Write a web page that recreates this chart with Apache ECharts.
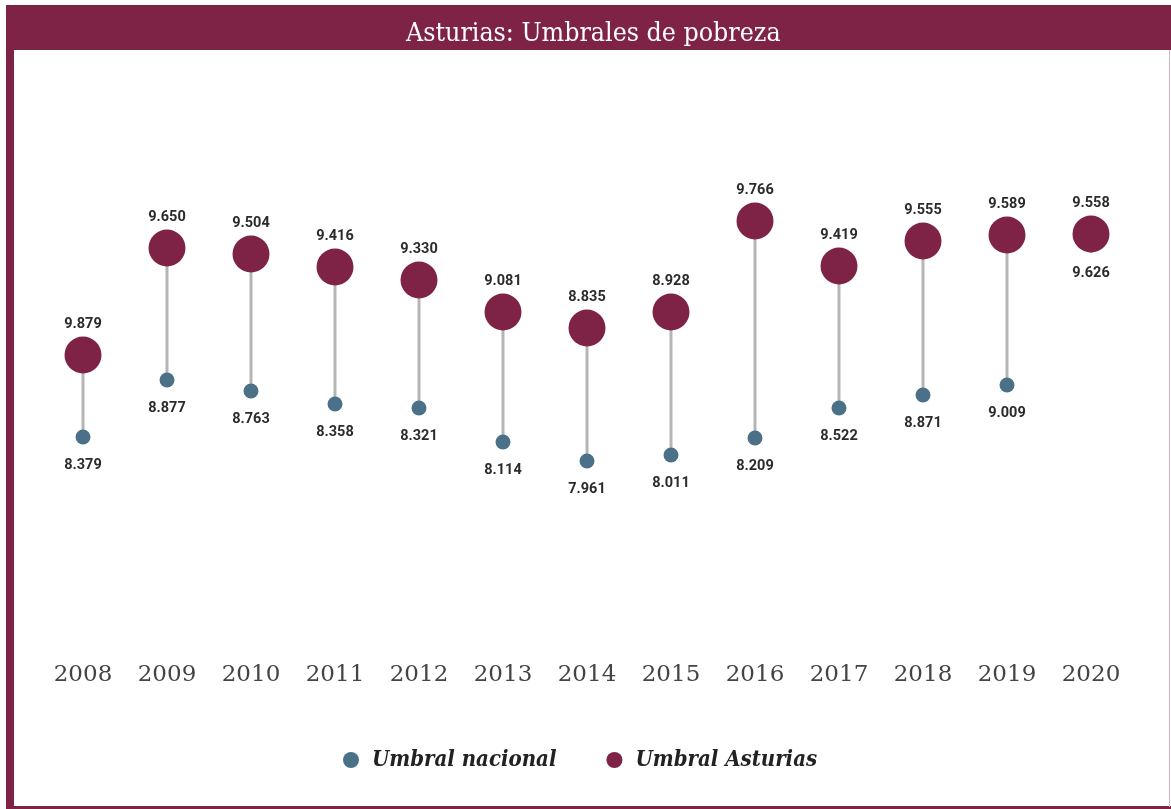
<!DOCTYPE html>
<html>
<head>
<meta charset="utf-8">
<script src="https://cdn.jsdelivr.net/npm/echarts@6/dist/echarts.min.js"></script>
<style>
  html, body { margin: 0; padding: 0; background: #ffffff; }
  #chart { width: 1171px; height: 809px; }
</style>
</head>
<body>
<div id="chart"></div>
<script>
// Categories
const years = ['2008','2009','2010','2011','2012','2013','2014','2015','2016','2017','2018','2019','2020'];

// Printed values (miles de euros)
const nacionalLabels = ['8.379','8.877','8.763','8.358','8.321','8.114','7.961','8.011','8.209','8.522','8.871','9.009','9.626'];
const asturiasLabels = ['9.879','9.650','9.504','9.416','9.330','9.081','8.835','8.928','9.766','9.419','9.555','9.589','9.558'];

// Marker heights as drawn in the picture (hidden vertical axis, 0–600)
const nacionalHeight = [223, 280, 269, 256, 252, 218, 199, 205, 222, 252, 265, 275, 415];
const asturiasHeight = [305, 412, 406, 393, 380, 348, 332, 348, 439, 394, 419, 425, 426];

const seriesNames = ['Umbral nacional', 'Umbral Asturias'];
const titleText = 'Asturias: Umbrales de pobreza';

const colNacional = '#4b7189';
const colAsturias = '#7f2346';
const frameColor = '#7f2346';
const slab = '"DejaVu Serif Condensed", "DejaVu Serif", serif';

const chart = echarts.init(document.getElementById('chart'), null, { renderer: 'canvas' });

const option = {
  backgroundColor: '#ffffff',
  animation: false,
  graphic: [
    { type: 'rect', z: 0, shape: { x: 6, y: 5, width: 1165, height: 45 }, style: { fill: frameColor } },
    { type: 'rect', z: 0, shape: { x: 6, y: 50, width: 8, height: 759 }, style: { fill: frameColor } },
    { type: 'rect', z: 0, shape: { x: 6, y: 806, width: 1165, height: 3 }, style: { fill: frameColor } },
    { type: 'rect', z: 0, shape: { x: 1169, y: 50, width: 1, height: 757 }, style: { fill: '#d9b3c4' } }
  ],
  title: {
    text: titleText,
    left: 401,
    top: 16,
    textStyle: { color: '#ffffff', fontSize: 26.5, fontWeight: 'normal', fontFamily: slab }
  },
  legend: {
    data: seriesNames,
    left: 338,
    top: 744,
    icon: 'circle',
    itemWidth: 16,
    itemHeight: 16,
    itemGap: 50,
    textStyle: { fontSize: 22, fontStyle: 'italic', fontWeight: 'bold', color: '#222', fontFamily: slab, padding: [0, 0, 0, 8] }
  },
  grid: { left: 41, right: 38, top: 60, height: 600 },
  xAxis: {
    type: 'category',
    data: years,
    boundaryGap: true,
    axisLine: { show: false },
    axisTick: { show: false },
    axisLabel: { margin: 4, fontSize: 23, color: '#444', fontFamily: '"DejaVu Serif", serif' }
  },
  yAxis: { type: 'value', min: 0, max: 600, show: false },
  series: [
    {
      type: 'custom',
      name: 'conector',
      z: 1,
      data: years.map((y, i) => [i, nacionalHeight[i], asturiasHeight[i]]),
      renderItem: function (params, api) {
        const p1 = api.coord([api.value(0), api.value(1)]);
        const p2 = api.coord([api.value(0), api.value(2)]);
        return {
          type: 'line',
          shape: { x1: p1[0], y1: p1[1], x2: p2[0], y2: p2[1] },
          style: { stroke: '#b5b5b5', lineWidth: 3 }
        };
      },
      silent: true
    },
    {
      type: 'scatter',
      name: seriesNames[0],
      z: 3,
      data: nacionalHeight,
      symbolSize: 15,
      itemStyle: { color: colNacional, opacity: 1 },
      label: {
        show: true,
        position: 'bottom',
        distance: 13,
        formatter: p => nacionalLabels[p.dataIndex],
        fontSize: 14.5,
        fontWeight: 'bold',
        color: '#2b2b2b',
        fontFamily: 'Roboto, sans-serif'
      }
    },
    {
      type: 'scatter',
      name: seriesNames[1],
      z: 4,
      data: asturiasHeight,
      symbolSize: 37,
      itemStyle: { color: colAsturias, opacity: 1 },
      label: {
        show: true,
        position: 'top',
        distance: 5,
        formatter: p => asturiasLabels[p.dataIndex],
        fontSize: 14.5,
        fontWeight: 'bold',
        color: '#2b2b2b',
        fontFamily: 'Roboto, sans-serif'
      }
    }
  ]
};

chart.setOption(option);
</script>
</body>
</html>
